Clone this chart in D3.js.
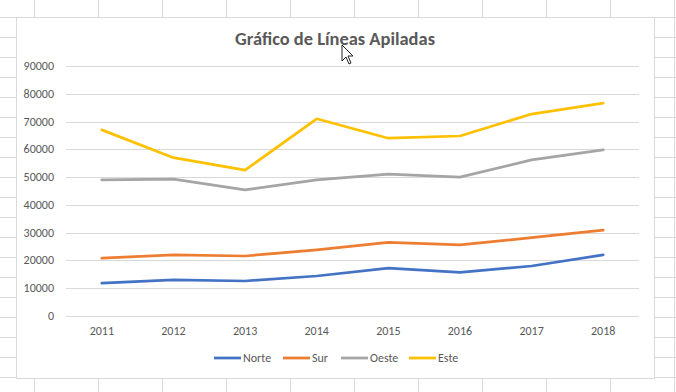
<!DOCTYPE html>
<html>
<head>
<meta charset="utf-8">
<script src="https://cdn.jsdelivr.net/npm/d3@7"></script>
<style>
  body { margin: 0; background: #fff; }
  text { font-family: Carlito, Calibri, Lato, "Open Sans", sans-serif; fill: #595959; }
</style>
</head>
<body>
<script>
    //Data
        const years = ["2011", "2012", "2013", "2014", "2015", "2016", "2017", "2018"];
        const series = ["Norte", "Sur", "Oeste", "Este"];
        const norte = [11800, 13000, 12600, 14400, 17200, 15700, 18000, 22000];
        const sur   = [9000, 9000, 9000, 9400, 9300, 9900, 10200, 8900];
        const oeste = [28200, 27300, 23800, 25200, 24600, 24400, 28000, 28900];
        const este  = [18000, 7700, 7100, 22000, 12900, 14800, 16500, 16800];
        const yTicks = [0, 10000, 20000, 30000, 40000, 50000, 60000, 70000, 80000, 90000];
        const colors = ["#4472C4", "#ED7D31", "#A5A5A5", "#FFC000"];

        const rows = years.map((y, i) => ({
            year: y, Norte: norte[i], Sur: sur[i], Oeste: oeste[i], Este: este[i]
        }));
        const stacked = d3.stack().keys(series)(rows);

    //Sizes
        const width = 676;
        const height = 392;
        const plot = {left: 66, right: 639, top: 66, bottom: 316};

        const svg = d3.select("body")
                    .append("svg")
                    .attr("width", width)
                    .attr("height", height);

    //Spreadsheet background
        svg.append("rect").attr("width", width).attr("height", height).attr("fill", "#fff");
        const sheet = svg.append("g").attr("stroke", "#dadada").attr("stroke-width", 1);
        d3.range(34, width + 1, 64).forEach(x => {
            sheet.append("line").attr("x1", x + 0.5).attr("x2", x + 0.5).attr("y1", 0).attr("y2", height);
        });
        d3.range(17, height, 20).forEach(y => {
            sheet.append("line").attr("x1", 0).attr("x2", width).attr("y1", y + 0.5).attr("y2", y + 0.5);
        });

    //Chart area
        svg.append("rect")
            .attr("x", 16.5).attr("y", 17.5)
            .attr("width", 638).attr("height", 361)
            .attr("fill", "#fff")
            .attr("stroke", "#d9d9d9");

    //Scales
        const xScale = d3.scaleBand()
                        .domain(years)
                        .range([plot.left, plot.right]);
        const yScale = d3.scaleLinear()
                        .domain([0, 90000])
                        .range([plot.bottom, plot.top]);
        const xMid = d => xScale(d) + xScale.bandwidth() / 2;

    //Gridlines
        svg.append("g")
            .selectAll("line")
            .data(yTicks)
            .enter()
            .append("line")
            .attr("x1", plot.left).attr("x2", plot.right)
            .attr("y1", d => Math.round(yScale(d)) + 0.5)
            .attr("y2", d => Math.round(yScale(d)) + 0.5)
            .attr("stroke", "#d9d9d9");

    //Axis labels
        svg.append("g")
            .selectAll("text")
            .data(yTicks)
            .enter()
            .append("text")
            .attr("x", 54)
            .attr("y", d => yScale(d) + 4)
            .attr("text-anchor", "end")
            .attr("font-size", 12)
            .text(d => d);

        svg.append("g")
            .selectAll("text")
            .data(years)
            .enter()
            .append("text")
            .attr("x", d => xMid(d))
            .attr("y", 335)
            .attr("text-anchor", "middle")
            .attr("font-size", 12)
            .text(d => d);

    //Lines
        const line = d3.line()
                       .x(d => xMid(d.data.year))
                       .y(d => yScale(d[1]));

        svg.append("g")
            .selectAll("path")
            .data(stacked)
            .enter()
            .append("path")
            .attr("d", d => line(d))
            .attr("fill", "none")
            .attr("stroke", (d, i) => colors[i])
            .attr("stroke-width", 2.75)
            .attr("stroke-linejoin", "round")
            .attr("stroke-linecap", "round");

    //Title
        svg.append("text")
            .attr("x", 335)
            .attr("y", 45)
            .attr("text-anchor", "middle")
            .attr("font-size", 18)
            .attr("font-weight", "bold")
            .attr("textLength", 200)
            .attr("lengthAdjust", "spacingAndGlyphs")
            .text("Gráfico de Líneas Apiladas");

    //Legend
        const legendX = [214, 283, 341, 409];
        const legend = svg.append("g")
            .selectAll("g")
            .data(series)
            .enter()
            .append("g")
            .attr("transform", (d, i) => "translate(" + legendX[i] + ",358)");
        legend.append("line")
            .attr("x1", 0).attr("x2", 27)
            .attr("stroke", (d, i) => colors[i])
            .attr("stroke-width", 2.75);
        legend.append("text")
            .attr("x", 29)
            .attr("y", 4)
            .attr("font-size", 12)
            .text(d => d);

    //Mouse pointer
        svg.append("path")
            .attr("d", "M342,45 L342,61 L346,57 L349,64 L351,63 L348,56 L353,56 Z")
            .attr("fill", "#fff")
            .attr("stroke", "#222")
            .attr("stroke-width", 1);
</script>
</body>
</html>
